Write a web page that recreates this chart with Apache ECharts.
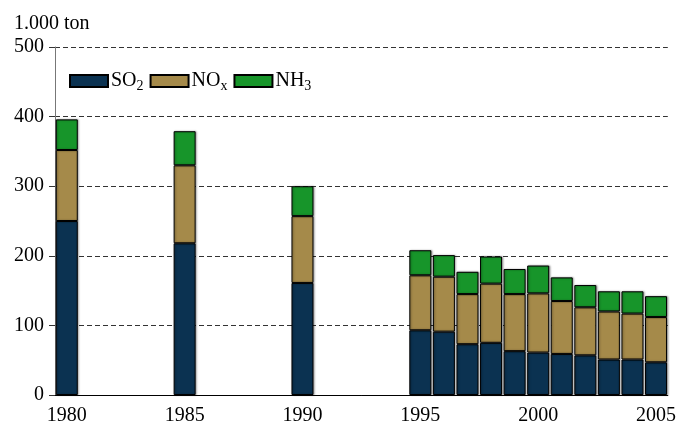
<!DOCTYPE html>
<html>
<head>
<meta charset="utf-8">
<script src="https://cdn.jsdelivr.net/npm/echarts@6/dist/echarts.min.js"></script>
<style>html,body{margin:0;padding:0;background:#fff}#c{width:679px;height:426px}</style>
</head>
<body>
<div id="c"></div>
<script>
var years = ['1980','1981','1982','1983','1984','1985','1986','1987','1988','1989','1990','1991','1992','1993','1994','1995','1996','1997','1998','1999','2000','2001','2002','2003','2004','2005'];
var so2 = [250,null,null,null,null,218,null,null,null,null,161,null,null,null,null,93,91,73,75,63,61,59,57,51,51,47];
var nox = [102,null,null,null,null,112,null,null,null,null,96,null,null,null,null,79,79,72,85,82,85,76,69,69,66,65];
var nh3 = [44,null,null,null,null,49,null,null,null,null,43,null,null,null,null,36,31,32,39,36,40,34,32,29,32,30];
var yTicks = [0,100,200,300,400,500];
var unitLabel = '1.000 ton';

var font = '"Liberation Serif", "DejaVu Serif", serif';
var chart = echarts.init(document.getElementById('c'));
function bar(name, data, color) {
  return {
    name: name, type: 'bar', stack: 'a', data: data, barWidth: 22,
    itemStyle: {color: color, borderColor: '#000', borderWidth: 1,
      shadowColor: 'rgba(0,0,0,0.35)', shadowBlur: 2, shadowOffsetX: 1},
    emphasis: {disabled: true}
  };
}
chart.setOption({
  animation: false,
  backgroundColor: '#fff',
  title: {text: unitLabel, left: 9, top: 9, textStyle: {fontFamily: font, fontSize: 20, fontWeight: 'normal', color: '#000'}},
  grid: {left: 55, right: 10, top: 47, bottom: 28},
  legend: {
    left: 64, top: 66, itemWidth: 38, itemHeight: 12, itemGap: 6,
    icon: 'rect',
    data: ['SO2','NOx','NH3'],
    formatter: function (n) {
      if (n === 'SO2') return 'SO{s|2}';
      if (n === 'NOx') return 'NO{s|x}';
      return 'NH{s|3}';
    },
    textStyle: {fontFamily: font, fontSize: 20, color: '#000', padding: [0,0,0,-2],
      rich: {s: {fontFamily: font, fontSize: 14, color: '#000', padding: [10,0,0,0]}}}
  },
  xAxis: [{
    type: 'category', data: years, boundaryGap: true,
    axisLine: {lineStyle: {color: '#000', width: 1}},
    axisTick: {interval: 0, length: 4, lineStyle: {color: '#000'}},
    axisLabel: {interval: 4, fontFamily: font, fontSize: 20, color: '#000', margin: 11}
  }, {
    type: 'category', data: years, boundaryGap: true, position: 'bottom',
    axisLine: {show: false},
    axisTick: {interval: function (i) { return i % 5 === 0; }, length: 8, lineStyle: {color: '#000'}},
    axisLabel: {show: false}
  }],
  yAxis: {
    type: 'value', min: 0, max: 500, interval: 100,
    axisLine: {show: true, lineStyle: {color: '#777'}},
    axisTick: {show: true, length: 6, lineStyle: {color: '#333'}},
    axisLabel: {fontFamily: font, fontSize: 20, color: '#000', margin: 11,
      formatter: function (v) { return yTicks.indexOf(v) >= 0 ? String(v) : ''; }},
    splitLine: {show: true, lineStyle: {color: '#333', type: [5, 3], width: 1}}
  },
  series: [
    bar('SO2', so2, '#0b3251'),
    bar('NOx', nox, '#a58a4a'),
    bar('NH3', nh3, '#17952a')
  ]
});
</script>
</body>
</html>
